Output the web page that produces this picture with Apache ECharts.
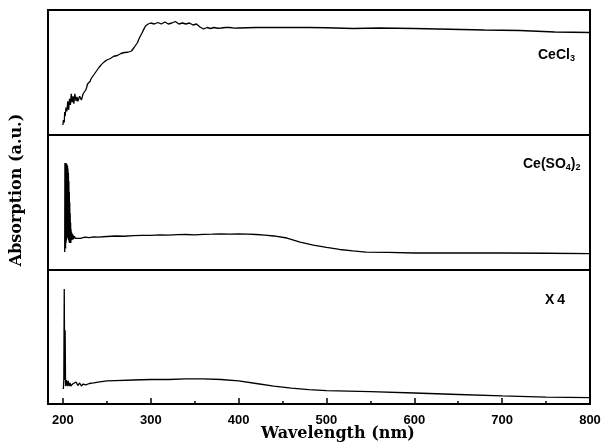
<!DOCTYPE html>
<html>
<head>
<meta charset="utf-8">
<script src="https://cdn.jsdelivr.net/npm/echarts@6/dist/echarts.min.js"></script>
<style>html,body{margin:0;padding:0;background:#fff}#c{width:601px;height:446px}</style>
</head>
<body>
<div id="c"></div>
<script>
// ---- data ----
const xTicks = [200, 300, 400, 500, 600, 700, 800];
const xMinorTicks = [250, 350, 450, 550, 650, 750];

const ceCl3Wl = [200,200.5,201,201.5,202,202.5,203,203.5,204,204.5,205,205.5,206,206.5,207,207.5,208,208.5,209,209.5,210,210.5,211,211.5,212,212.5,213,213.5,214,215,216,217,218,219,220,221,222,223,224,225,226,227,228,229,230,231,232,233,234,235,236,237,238,239,240,241,242,243,244,245,246,247,248,249,250,252,254,256,258,260,262,264,266,268,270,272,274,276,278,279,281,283,285,286,288,290,292,294,296,297,299,300,302,304,306,308,310,312,314,316,318,320,322,324,326,328,330,332,334,336,338,340,342,344,346,348,350,352,354,356,358,360,362,364,366,368,370,372,376,380,385,390,395,400,420,450,480,500,530,560,600,640,680,720,760,800];
const ceCl3Abs = [0.08,0.12,0.136,0.10,0.184,0.15,0.152,0.22,0.232,0.19,0.20,0.27,0.256,0.20,0.216,0.29,0.296,0.24,0.248,0.33,0.328,0.26,0.264,0.31,0.312,0.25,0.248,0.33,0.32,0.272,0.304,0.27,0.28,0.31,0.312,0.28,0.288,0.33,0.344,0.33,0.36,0.38,0.408,0.40,0.424,0.43,0.45,0.456,0.46,0.48,0.488,0.49,0.51,0.52,0.52,0.54,0.544,0.55,0.565,0.568,0.57,0.585,0.592,0.59,0.60,0.608,0.612,0.624,0.63,0.64,0.636,0.648,0.652,0.656,0.66,0.668,0.662,0.664,0.672,0.68,0.70,0.72,0.74,0.76,0.79,0.816,0.845,0.872,0.88,0.888,0.892,0.896,0.89,0.888,0.90,0.90,0.893,0.888,0.90,0.904,0.895,0.888,0.90,0.896,0.89,0.908,0.895,0.888,0.90,0.896,0.885,0.888,0.90,0.896,0.884,0.88,0.892,0.888,0.875,0.864,0.85,0.848,0.856,0.86,0.855,0.852,0.858,0.86,0.854,0.856,0.86,0.86,0.855,0.856,0.86,0.86,0.86,0.858,0.852,0.856,0.852,0.846,0.84,0.836,0.824,0.82];

const ceSO4Wl = [202,202.25,202.5,202.75,203,203.25,203.5,203.75,204,204.25,204.5,204.75,205,205.25,205.5,205.75,206,206.25,206.5,206.75,207,207.25,207.5,207.75,208,208.25,208.5,208.75,209,209.25,209.5,209.75,210,210.5,211,211.5,212,213,214,215,220,225,230,235,240,250,260,270,280,290,300,310,320,330,340,350,360,370,380,390,400,410,420,430,440,455,470,485,500,515,530,545,570,600,650,700,750,800];
const ceSO4Abs = [0.133,0.79,0.18,0.793,0.16,0.79,0.20,0.79,0.22,0.785,0.24,0.78,0.25,0.77,0.24,0.75,0.23,0.72,0.22,0.66,0.21,0.58,0.20,0.50,0.20,0.42,0.21,0.35,0.20,0.30,0.22,0.28,0.22,0.27,0.225,0.26,0.23,0.25,0.235,0.24,0.235,0.243,0.24,0.246,0.244,0.248,0.252,0.25,0.254,0.256,0.256,0.26,0.258,0.262,0.263,0.26,0.264,0.265,0.267,0.266,0.267,0.266,0.263,0.259,0.252,0.237,0.207,0.185,0.167,0.152,0.141,0.133,0.13,0.126,0.126,0.126,0.124,0.122];

const x4Wl = [200.5,201,201.5,202,202.5,203,204,205,206,207,208,209,211,213,215,217,219,221,223,226,230,235,240,250,260,280,300,320,340,360,380,400,420,440,460,480,500,550,600,650,700,750,800];
const x4Abs = [0.112,0.179,0.858,0.179,0.55,0.134,0.179,0.134,0.172,0.134,0.157,0.134,0.149,0.142,0.164,0.138,0.157,0.134,0.149,0.142,0.153,0.157,0.164,0.172,0.175,0.179,0.183,0.183,0.187,0.187,0.183,0.172,0.153,0.134,0.119,0.108,0.10,0.093,0.082,0.071,0.06,0.052,0.047];

const seriesNames = ['CeCl3', 'Ce(SO4)2', 'X4'];
const xName = 'Wavelength (nm)';
const yName = 'Absorption (a.u.)';

// ---- chart ----
const X_MIN = 183, X_MAX = 800;
const zip = (a, b) => a.map((v, i) => [v, b[i]]);
const chart = echarts.init(document.getElementById('c'), null, {renderer: 'canvas'});

const grids = [
  {left: 48, right: 11, top: 10, height: 125},
  {left: 48, right: 11, top: 135, height: 135},
  {left: 48, right: 11, top: 270, height: 134}
].map(g => Object.assign({show: true, borderColor: '#000', borderWidth: 2, backgroundColor: 'transparent', containLabel: false, outerBoundsMode: 'none'}, g));

const hiddenX = (gi) => ({type: 'value', gridIndex: gi, min: X_MIN, max: X_MAX, show: false});
const xAxes = [
  hiddenX(0), hiddenX(1),
  {type: 'value', gridIndex: 2, position: 'bottom', min: X_MIN, max: X_MAX,
    axisLine: {show: false}, splitLine: {show: false},
    axisTick: {show: true, inside: true, length: 6, customValues: xTicks, lineStyle: {color: '#000', width: 1.5}},
    axisLabel: {show: true, customValues: xTicks, margin: 10, color: '#000', fontSize: 13, fontWeight: 'bold', fontFamily: 'Liberation Sans'}},
  {type: 'value', gridIndex: 2, position: 'bottom', min: X_MIN, max: X_MAX,
    axisLine: {show: false}, splitLine: {show: false}, axisLabel: {show: false},
    axisTick: {show: true, inside: true, length: 3, customValues: xMinorTicks, lineStyle: {color: '#000', width: 1.5}}}
];
const yAxes = [0, 1, 2].map(gi => ({type: 'value', gridIndex: gi, min: 0, max: 1, show: false}));

const lineSeries = (name, xi, yi, wl, ab) => ({
  name, type: 'line', xAxisIndex: xi, yAxisIndex: yi, data: zip(wl, ab),
  showSymbol: false, symbol: 'none', lineStyle: {color: '#000', width: 1.3}, smooth: false
});

chart.setOption({
  animation: false,
  backgroundColor: '#fff',
  grid: grids,
  xAxis: xAxes,
  yAxis: yAxes,
  series: [
    lineSeries(seriesNames[0], 0, 0, ceCl3Wl, ceCl3Abs),
    lineSeries(seriesNames[1], 1, 1, ceSO4Wl, ceSO4Abs),
    lineSeries(seriesNames[2], 2, 2, x4Wl, x4Abs)
  ],
  graphic: [
    {type: 'text', x: 17, y: 190, rotation: Math.PI / 2,
      style: {text: yName, font: 'bold 16px "DejaVu Serif"', fill: '#000', align: 'center', verticalAlign: 'middle'}},
    {type: 'text', x: 338, y: 434,
      style: {text: xName, font: 'bold 16px "DejaVu Serif"', fill: '#000', align: 'center', verticalAlign: 'middle'}},
    {type: 'text', x: 538, y: 55,
      style: {text: '{a|CeCl}{s|3}', align: 'left', verticalAlign: 'middle',
        rich: {a: {fontSize: 14, fontWeight: 'bold', fontFamily: 'Liberation Sans', color: '#000'},
               s: {fontSize: 9, fontWeight: 'bold', fontFamily: 'Liberation Sans', color: '#000', padding: [8, 0, 0, 0]}}}},
    {type: 'text', x: 523, y: 164,
      style: {text: '{a|Ce(SO}{s|4}{a|)}{s|2}', align: 'left', verticalAlign: 'middle',
        rich: {a: {fontSize: 14, fontWeight: 'bold', fontFamily: 'Liberation Sans', color: '#000'},
               s: {fontSize: 9, fontWeight: 'bold', fontFamily: 'Liberation Sans', color: '#000', padding: [8, 0, 0, 0]}}}},
    {type: 'text', x: 545, y: 300,
      style: {text: '{a|X}{b|4}', align: 'left', verticalAlign: 'middle',
        rich: {a: {fontSize: 14, fontWeight: 'bold', fontFamily: 'Liberation Sans', color: '#000'},
               b: {fontSize: 14, fontWeight: 'bold', fontFamily: 'Liberation Sans', color: '#000', padding: [0, 0, 0, 3]}}}}
  ]
});
</script>
</body>
</html>
